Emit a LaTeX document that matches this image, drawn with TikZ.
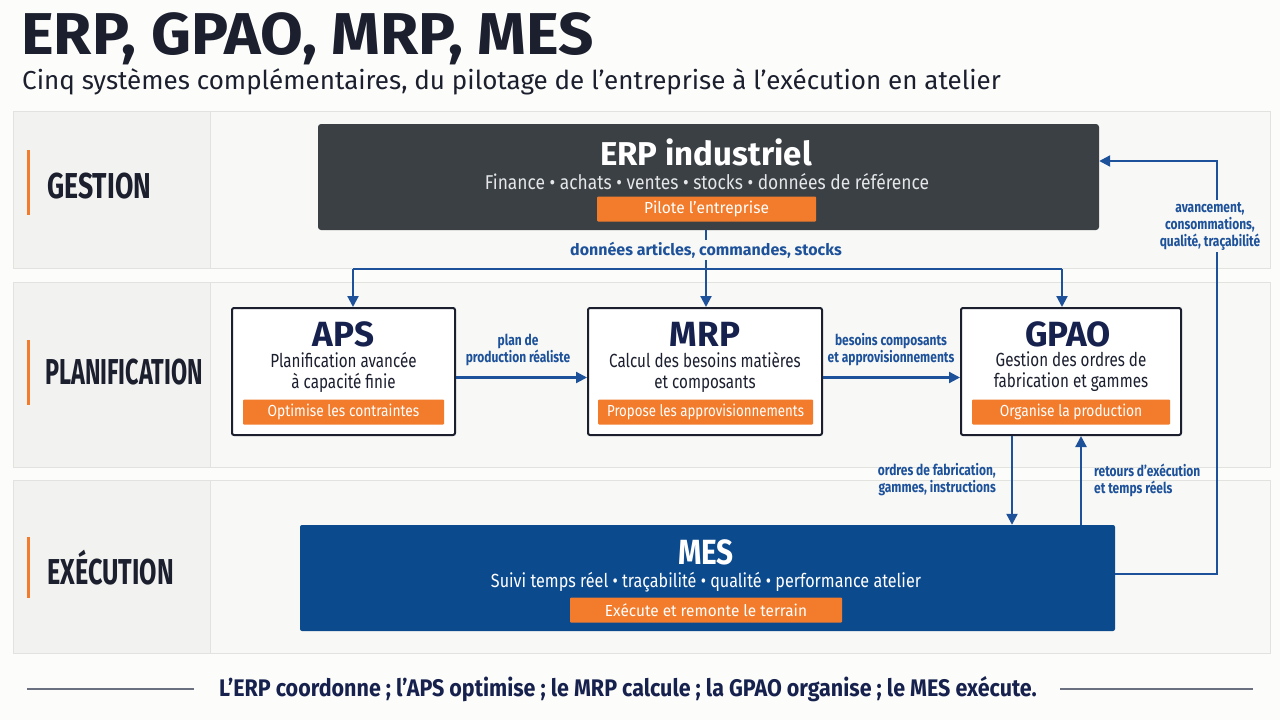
\documentclass[tikz,border=0pt]{standalone}
\usepackage{fontspec}
\setmainfont{Fira Sans}
\usepackage{graphicx}
\usetikzlibrary{positioning,arrows.meta}

\definecolor{inkdark}{HTML}{1B1F2E}
\definecolor{navy}{HTML}{16214D}
\definecolor{linkblue}{HTML}{1D519A}
\definecolor{tagorange}{HTML}{F27C2C}
\definecolor{erpgray}{HTML}{3B4045}
\definecolor{mesblue}{HTML}{0C4A8E}
\definecolor{bandfill}{HTML}{F8F8F6}
\definecolor{cellfill}{HTML}{F2F2F0}
\definecolor{bandline}{HTML}{E2E2DF}
\definecolor{pagebg}{HTML}{FCFCFA}
\definecolor{rulegray}{HTML}{6B7080}
\definecolor{lightsub}{HTML}{E4E6E8}

\newcommand{\fsz}[2]{\fontsize{#1}{#2}\selectfont}
\newcommand{\nar}[2][0.8]{\scalebox{#1}[1]{#2}}

\begin{document}
\begin{tikzpicture}[
    x=1pt, y=-1pt,
    band/.style={fill=bandfill, draw=bandline, line width=1pt},
    cell/.style={fill=cellfill, draw=bandline, line width=1pt},
    bandbar/.style={draw=tagorange, line width=3pt},
    bandlabel/.style={anchor=west, text=inkdark, font=\bfseries\fsz{36}{40}, inner sep=0pt},
    plbox/.style={draw=inkdark, line width=2pt, fill=white, rounded corners=2pt},
    systitle/.style={font=\bfseries\fsz{35}{40}, text=navy, inner sep=0pt},
    sysdesc/.style={font=\fsz{19}{21}, text=inkdark, align=center, inner sep=0pt},
    tag/.style={fill=tagorange, text=white, font=\fsz{16}{18}, minimum height=25pt, inner sep=0pt, rounded corners=1pt},
    link/.style={line width=2.2pt, draw=linkblue},
    arr/.style={link, -{Triangle[length=11pt,width=11pt]}},
    lbl/.style={text=linkblue, font=\bfseries\fsz{15}{17}, align=center, inner sep=2pt},
    rule/.style={draw=rulegray, line width=1.5pt}
]
\useasboundingbox[fill=pagebg] (0,0) rectangle (1280,720);

% title
\node[anchor=base west, inner sep=0pt, text=inkdark, font=\bfseries\fsz{59}{62}] (title) at (21,54) {\nar[1.05]{ERP, GPAO, MRP, MES}};
\node[anchor=base west, inner sep=0pt, text=inkdark, font=\fsz{26}{30}] (subtitle) at (22,89) {Cinq systèmes complémentaires, du pilotage de l’entreprise à l’exécution en atelier};

% bands
\draw[band] (13,111) rectangle (1270,268);
\draw[cell] (13,111) rectangle (210,268);
\draw[band] (13,282) rectangle (1270,467);
\draw[cell] (13,282) rectangle (210,467);
\draw[band] (13,480) rectangle (1270,653);
\draw[cell] (13,480) rectangle (210,653);

\draw[bandbar] (28,150) -- (28,215);
\node[bandlabel] (gestion) at (47,186) {\nar[0.74]{GESTION}};
\draw[bandbar] (28,340) -- (28,405);
\node[bandlabel] (planif) at (45,372) {\nar[0.65]{PLANIFICATION}};
\draw[bandbar] (28,537) -- (28,598);
\node[bandlabel] (exec) at (47,568) {\nar[0.7]{EXÉCUTION}};

% ERP
\node[fill=erpgray, rounded corners=3pt, minimum width=781pt, minimum height=106pt] (erp) at (708.5,177) {};
\node[systitle, text=white, font=\bfseries\fsz{33}{38}] (erptitle) at (706,152) {ERP industriel};
\node[sysdesc, text=lightsub, font=\fsz{20}{22}] (erpdesc) at (707,182) {\nar[0.87]{Finance • achats • ventes • stocks • données de référence}};
\node[tag, minimum width=219pt] (erptag) at (706.5,209) {\nar[0.97]{Pilote l’entreprise}};

% APS
\node[plbox, minimum width=223pt, minimum height=127pt] (aps) at (343.5,371.5) {};
\node[systitle] (apstitle) at (343.5,334) {APS};
\node[sysdesc] (apsdesc) at (343.5,372) {\nar{Planification avancée}\\\nar{à capacité finie}};
\node[tag, minimum width=201pt] (apstag) at (343.5,412) {\nar[0.86]{Optimise les contraintes}};

% MRP
\node[plbox, minimum width=234pt, minimum height=127pt] (mrp) at (705,371.5) {};
\node[systitle] (mrptitle) at (705,334) {MRP};
\node[sysdesc] (mrpdesc) at (705,372) {\nar{Calcul des besoins matières}\\\nar{et composants}};
\node[tag, minimum width=215pt] (mrptag) at (705.5,412) {\nar[0.83]{Propose les approvisionnements}};

% GPAO
\node[plbox, minimum width=220pt, minimum height=127pt] (gpao) at (1071,371.5) {};
\node[systitle] (gpaotitle) at (1068,334) {GPAO};
\node[sysdesc] (gpaodesc) at (1071,372) {\nar{Gestion des ordres de}\\\nar{fabrication et gammes}};
\node[tag, minimum width=198pt] (gpaotag) at (1071,412) {\nar[0.86]{Organise la production}};

% MES
\node[fill=mesblue, rounded corners=2pt, minimum width=815pt, minimum height=106pt] (mes) at (707.5,578) {};
\node[systitle, text=white] (mestitle) at (706,552) {\nar[0.85]{MES}};
\node[sysdesc, text=white] (mesdesc) at (706,582) {\nar[0.85]{Suivi temps réel • traçabilité • qualité • performance atelier}};
\node[tag, minimum width=272pt] (mestag) at (706,610) {\nar[0.96]{Exécute et remonte le terrain}};

% ERP -> planification
\coordinate (jn) at (706,269);
\coordinate (apsj) at (353,269);
\coordinate (gpaoj) at (1062,269);
\draw[link] (erp.south -| jn) -- (jn);
\node[lbl, fill=bandfill, font=\bfseries\fsz{16}{18}] (datalbl) at (706,250) {données articles, commandes, stocks};
\draw[link] (apsj) -- (gpaoj);
\draw[arr] (apsj) -- (apsj |- aps.north);
\draw[arr] (jn) -- (jn |- mrp.north);
\draw[arr] (gpaoj) -- (gpaoj |- gpao.north);

% flows between planning boxes
\draw[arr] ([yshift=-6pt]aps.east) -- ([yshift=-6pt]mrp.west);
\node[lbl] (planlbl) at (518,350) {\nar{plan de}\\\nar{production réaliste}};
\draw[arr] ([yshift=-6pt]mrp.east) -- ([yshift=-6pt]gpao.west);
\node[lbl] (besoinlbl) at (891,350) {\nar{besoins composants}\\\nar{et approvisionnements}};

% GPAO <-> MES
\draw[arr] ([xshift=-59pt]gpao.south) -- ([xshift=-59pt]gpao.south |- mes.north);
\node[lbl, anchor=east, align=right] (ofl) at (998,480) {\nar{ordres de fabrication,}\\\nar{gammes, instructions}};
\draw[arr] ([xshift=10pt]gpao.south |- mes.north) -- ([xshift=10pt]gpao.south);
\node[lbl, anchor=west, align=left] (retl) at (1092,480) {\nar{retours d’exécution}\\\nar{et temps réels}};

% MES -> ERP feedback
\coordinate (fb) at (1217,400);
\draw[arr] ([yshift=4pt]mes.east) -| (fb) |- ([yshift=16pt]erp.east);
\node[lbl, fill=bandfill] (fblbl) at (1210,226) {\nar{avancement,}\\\nar{consommations,}\\\nar{qualité, traçabilité}};

% footer
\node[inner sep=0pt, text=navy, font=\bfseries\fsz{24}{28}] (foot) at (628,689) {\nar[0.895]{L’ERP coordonne ; l’APS optimise ; le MRP calcule ; la GPAO organise ; le MES exécute.}};
\draw[rule] ([xshift=-25pt]foot.west) -- ++(-167,0);
\draw[rule] ([xshift=23pt]foot.east) -- ++(193,0);
\end{tikzpicture}
\end{document}
